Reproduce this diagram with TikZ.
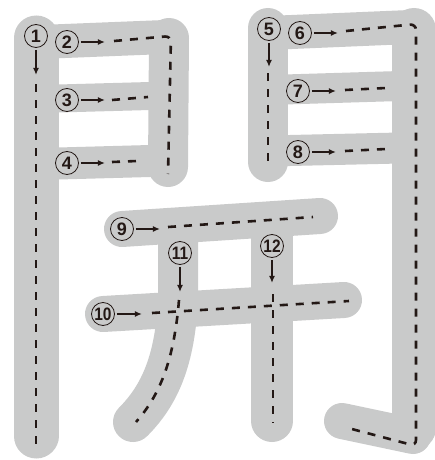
\documentclass[tikz,border=0pt]{standalone}
\usepackage{fontspec}
\setsansfont{Liberation Sans}
\usepackage{xcolor}
\usepackage{graphicx}
\definecolor{BrushGray}{HTML}{C9CACA}
\definecolor{InkDark}{HTML}{231815}
\usetikzlibrary{arrows.meta,positioning}
\newcommand{\twodig}[1]{\scalebox{0.86}[1]{#1}}

\begin{document}
\begin{tikzpicture}[x=1pt,y=-1pt,
  brush/.style={draw=BrushGray,line cap=round,line join=round},
  guide/.style={draw=InkDark,line width=2.6pt,dash pattern=on 8pt off 8pt},
  num/.style={circle,draw=InkDark,line width=0.8pt,minimum size=23pt,inner sep=0pt,text=InkDark,font=\sffamily\bfseries\fontsize{18pt}{18pt}\selectfont},
  arr/.style={-{Latex[length=7pt,width=6pt]},line width=1.3pt,InkDark,shorten <=2pt}
]
  \useasboundingbox (0,0) rectangle (434,460);
  % brush shapes of the character
  \draw[brush,line width=45pt] (36,38) -- (36,436);
  \draw[brush,line width=34pt] (40,42) -- (165,37);
  \draw[brush,line width=40pt] (169,38) -- (168,167);
  \draw[brush,line width=28pt] (40,99) -- (150,96);
  \draw[brush,line width=32pt] (40,164) -- (150,161);
  \draw[brush,line width=40pt] (268,28) -- (268,162);
  \draw[brush,line width=34pt] (268,33) -- (410,27);
  \draw[brush,line width=44pt] (414,30) -- (414,428);
  \draw[brush,line width=36pt] (413,436) -- (342,421);
  \draw[brush,line width=30pt] (268,90) -- (400,86);
  \draw[brush,line width=31pt] (268,151) -- (400,148);
  \draw[brush,line width=36pt] (122,229) -- (320,216);
  \draw[brush,line width=36pt] (103,314) -- (344,300);
  \draw[brush,line width=40pt] (178,228) -- (178,300) .. controls (175,360) and (160,395) .. (133,422);
  \draw[brush,line width=42pt] (272,230) -- (272,421);

  % dashed guides
  \draw[guide] (36,84) -- (36,444);
  \draw[guide,rounded corners=6pt] (114,41) -- (171,36) -- (168,174);
  \draw[guide] (112,100) -- (148,97);
  \draw[guide] (112,162) -- (137,161);
  \draw[guide] (268,73) -- (268,166);
  \draw[guide,rounded corners=6pt] (346,31) -- (416,24) -- (416,446) -- (348,428);
  \draw[guide] (345,90) -- (386,88);
  \draw[guide] (345,151) -- (386,149);
  \draw[guide] (168,227) -- (313,217);
  \draw[guide] (152,313) -- (349,301);
  \draw[guide] (179,300) .. controls (174,360) and (160,395) .. (136,422);
  \draw[guide] (273,294) -- (273,423);

  % stroke numbers
  \node[num] (n1) at (36,36) {1};
  \node[num] (n2) at (67,42) {2};
  \node[num] (n3) at (67,100) {3};
  \node[num] (n4) at (67,163) {4};
  \node[num] (n5) at (269,29) {5};
  \node[num] (n6) at (300,33) {6};
  \node[num] (n7) at (298,91) {7};
  \node[num] (n8) at (298,152) {8};
  \node[num] (n9) at (122,229) {9};
  \node[num] (n10) at (103,314) {\twodig{10}};
  \node[num] (n11) at (180,253) {\twodig{11}};
  \node[num] (n12) at (272,246) {\twodig{12}};

  \coordinate[below=27pt of n1] (t1);
  \coordinate[right=26pt of n2] (t2);
  \coordinate[right=26pt of n3] (t3);
  \coordinate[right=26pt of n4] (t4);
  \coordinate[below=26pt of n5] (t5);
  \coordinate[right=26pt of n6] (t6);
  \coordinate[right=26pt of n7] (t7);
  \coordinate[right=26pt of n8] (t8);
  \coordinate[right=26pt of n9] (t9);
  \coordinate[right=27pt of n10] (t10);
  \coordinate[below=27pt of n11] (t11);
  \coordinate[below=25pt of n12] (t12);
  \foreach \k in {1,...,12}
    \draw[arr] (n\k) -- (t\k);
\end{tikzpicture}
\end{document}
